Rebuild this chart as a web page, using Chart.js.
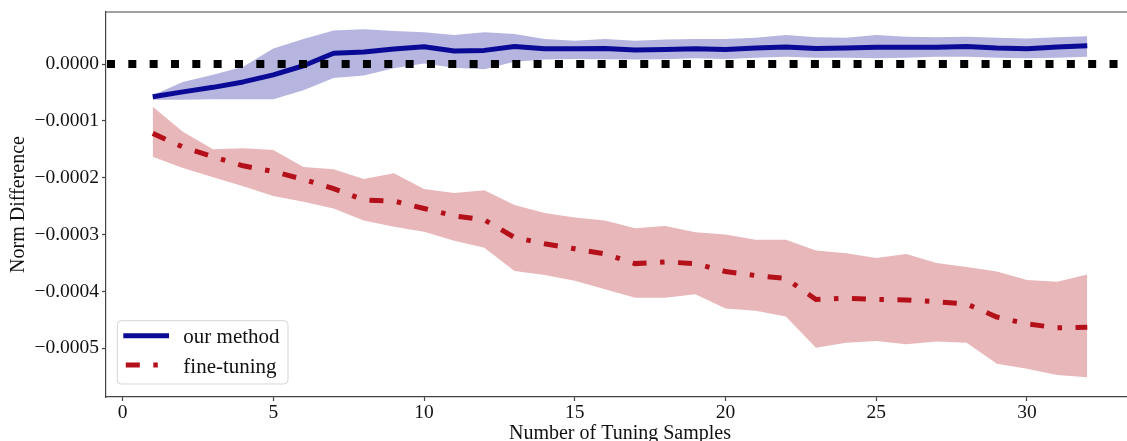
<!DOCTYPE html>
<html>
<head>
<meta charset="utf-8">
<title>Norm Difference vs Number of Tuning Samples</title>
<script src="https://cdn.jsdelivr.net/npm/chart.js@4.4.1/dist/chart.umd.min.js"></script>
<style>
  html, body { margin: 0; padding: 0; overflow: hidden; background: #fff; }
  #wrap { width: 1135px; height: 441px; }
</style>
</head>
<body>
<div id="wrap"><canvas id="normChart"></canvas></div>
<script>
// Norm difference chart
// - two series with shaded bands (mean, upper, lower)
// - values below are in units of 1e-4 (tick labels convert back)

const samples = [1, 2, 3, 4, 5, 6, 7, 8, 9, 10, 11, 12, 13, 14, 15, 16,
                 17, 18, 19, 20, 21, 22, 23, 24, 25, 26, 27, 28, 29, 30, 31, 32];

const oursMean  = [-0.575, -0.49, -0.41, -0.315, -0.19, -0.03, 0.19, 0.21, 0.265, 0.305, 0.23, 0.24,
                   0.31, 0.27, 0.27, 0.275, 0.245, 0.255, 0.27, 0.255, 0.28, 0.30, 0.275, 0.28,
                   0.295, 0.295, 0.295, 0.31, 0.28, 0.27, 0.30, 0.32];
const oursUpper = [-0.55, -0.315, -0.19, -0.05, 0.275, 0.44, 0.59, 0.61, 0.58, 0.56, 0.51, 0.56,
                   0.53, 0.44, 0.41, 0.44, 0.41, 0.43, 0.44, 0.44, 0.46, 0.51, 0.47, 0.46,
                   0.51, 0.48, 0.47, 0.48, 0.46, 0.45, 0.47, 0.49];
const oursLower = [-0.63, -0.63, -0.62, -0.62, -0.62, -0.46, -0.245, -0.2, -0.075, 0.01, -0.065, -0.09,
                   0.04, 0.08, 0.09, 0.085, 0.08, 0.085, 0.10, 0.09, 0.11, 0.13, 0.11, 0.11,
                   0.10, 0.11, 0.13, 0.13, 0.11, 0.10, 0.11, 0.13];

const ftMean  = [-1.22, -1.46, -1.63, -1.79, -1.89, -2.03, -2.19, -2.39, -2.41, -2.54, -2.67, -2.74,
                 -3.05, -3.16, -3.25, -3.34, -3.51, -3.48, -3.51, -3.65, -3.72, -3.77, -4.14, -4.12,
                 -4.14, -4.15, -4.18, -4.22, -4.45, -4.57, -4.64, -4.63];
const ftUpper = [-0.75, -1.19, -1.50, -1.48, -1.51, -1.81, -1.85, -2.02, -1.92, -2.20, -2.27, -2.22,
                 -2.48, -2.62, -2.70, -2.75, -2.89, -2.85, -2.96, -3.00, -3.09, -3.09, -3.28, -3.33,
                 -3.41, -3.34, -3.50, -3.57, -3.65, -3.80, -3.83, -3.70];
const ftLower = [-1.63, -1.83, -1.99, -2.15, -2.32, -2.42, -2.54, -2.75, -2.86, -2.95, -3.11, -3.23,
                 -3.64, -3.71, -3.81, -3.96, -4.11, -4.11, -4.05, -4.30, -4.34, -4.44, -4.99, -4.90,
                 -4.87, -4.93, -4.88, -4.90, -5.27, -5.36, -5.47, -5.51];

const referenceLevel = 0;
const xRange = [-0.55, 33.55];
const yRange = [-5.856, 0.915];

const BLUE = 'rgb(10, 10, 150)';
const BLUE_BAND = 'rgba(10, 10, 150, 0.3)';
const RED = 'rgb(180, 16, 26)';
const RED_BAND = 'rgba(180, 16, 26, 0.3)';
const SPINE = '#444';
const SERIF = '"Liberation Serif", "Times New Roman", serif';

function points(values) {
    return samples.map((x, i) => ({ x: x, y: values[i] }));
}

function fmtTick(v) {
    if (Math.abs(v) < 1e-9) return '0.0000';
    const s = (Math.abs(v) * 1e-4).toFixed(4);
    return v < 0 ? '\u2212' + s : s;
}

// dotted zero line, drawn on top of the data
const zeroLine = {
    id: 'zeroLine',
    afterDatasetsDraw(chart) {
        const { ctx, chartArea } = chart;
        const y = chart.scales.y.getPixelForValue(referenceLevel);
        ctx.save();
        ctx.beginPath();
        ctx.rect(chartArea.left, chartArea.top, chartArea.right - chartArea.left, chartArea.bottom - chartArea.top);
        ctx.clip();
        ctx.strokeStyle = '#000';
        ctx.lineWidth = 8;
        ctx.lineCap = 'butt';
        ctx.setLineDash([8, 13.33]);
        ctx.beginPath();
        ctx.moveTo(chartArea.left + 1, y);
        ctx.lineTo(chartArea.right, y);
        ctx.stroke();
        ctx.restore();
    }
};

// top spine + legend box in lower left
const frameAndLegend = {
    id: 'frameAndLegend',
    afterDraw(chart) {
        const { ctx, chartArea } = chart;
        ctx.save();
        ctx.strokeStyle = SPINE;
        ctx.lineWidth = 1.2;
        ctx.beginPath();
        ctx.moveTo(chartArea.left, chartArea.top);
        ctx.lineTo(chartArea.right, chartArea.top);
        ctx.stroke();

        const items = chart.data.datasets.filter(d => d.inLegend);
        const bx = chartArea.left + 11.3;
        const by = chartArea.bottom - 76.3;
        const bw = 170.7, bh = 63.3;
        ctx.beginPath();
        if (ctx.roundRect) ctx.roundRect(bx, by, bw, bh, 4); else ctx.rect(bx, by, bw, bh);
        ctx.fillStyle = 'rgba(255,255,255,0.8)';
        ctx.fill();
        ctx.strokeStyle = '#d5d5d5';
        ctx.lineWidth = 1;
        ctx.stroke();

        items.forEach((d, i) => {
            const cy = by + 15 + i * 29.3;
            ctx.strokeStyle = d.borderColor;
            ctx.lineWidth = d.borderWidth;
            ctx.lineCap = 'butt';
            ctx.setLineDash(d.borderDash || []);
            ctx.beginPath();
            ctx.moveTo(bx + (d.borderDash ? 8.5 : 6), cy);
            ctx.lineTo(bx + 51.7, cy);
            ctx.stroke();
            ctx.setLineDash([]);
            ctx.fillStyle = '#111';
            ctx.font = '21px ' + SERIF;
            ctx.textBaseline = 'alphabetic';
            ctx.fillText(d.label, bx + 66, cy + 7.6);
        });
        ctx.restore();
    }
};

const bandStyle = { borderWidth: 0, pointRadius: 0, pointHoverRadius: 0, order: 2 };

new Chart(document.getElementById('normChart'), {
    type: 'line',
    data: {
        datasets: [
            { label: 'our method', data: points(oursMean), inLegend: true,
              borderColor: BLUE, borderWidth: 5, pointRadius: 0, borderJoinStyle: 'round', fill: false, order: 0 },
            { label: 'fine-tuning', data: points(ftMean), inLegend: true,
              borderColor: RED, borderWidth: 5, pointRadius: 0, borderDash: [14, 13.5, 4.5, 13.5],
              borderCapStyle: 'butt', fill: false, order: 0 },
            Object.assign({ label: 'ours upper', data: points(oursUpper), fill: '+1', backgroundColor: BLUE_BAND }, bandStyle),
            Object.assign({ label: 'ours lower', data: points(oursLower), fill: false }, bandStyle),
            Object.assign({ label: 'ft upper', data: points(ftUpper), fill: '+1', backgroundColor: RED_BAND }, bandStyle),
            Object.assign({ label: 'ft lower', data: points(ftLower), fill: false }, bandStyle)
        ]
    },
    options: {
        responsive: true,
        maintainAspectRatio: false,
        animation: false,
        layout: { padding: { top: 12, right: 1, bottom: 0, left: 0 } },
        plugins: {
            legend: { display: false },
            tooltip: { enabled: false }
        },
        scales: {
            x: {
                type: 'linear',
                min: xRange[0],
                max: xRange[1],
                afterFit: (scale) => {
                    scale.height = 44;
                    scale.paddingLeft = 0;
                    scale.paddingRight = 0;
                },
                border: { display: true, color: SPINE, width: 1.2 },
                grid: { drawOnChartArea: false, tickLength: 4, tickColor: SPINE, tickWidth: 1.2 },
                ticks: { stepSize: 5, includeBounds: false, maxRotation: 0, padding: 0,
                         color: '#111', font: { family: SERIF, size: 19.5 } },
                title: { display: true, text: 'Number of Tuning Samples', color: '#111',
                         font: { family: SERIF, size: 20, lineHeight: 1 }, padding: { top: 0, bottom: -3 } }
            },
            y: {
                min: yRange[0],
                max: yRange[1],
                afterFit: (scale) => {
                    scale.width = 106;
                    scale.paddingTop = 0;
                    scale.paddingBottom = 0;
                },
                border: { display: true, color: SPINE, width: 1.2 },
                grid: { drawOnChartArea: false, tickLength: 4, tickColor: SPINE, tickWidth: 1.2 },
                ticks: { stepSize: 1, includeBounds: false, padding: 3, callback: fmtTick,
                         color: '#111', font: { family: SERIF, size: 19.5 } },
                title: { display: true, text: 'Norm Difference', color: '#111',
                         font: { family: SERIF, size: 20 }, padding: { top: 7, bottom: 0 } }
            }
        }
    },
    plugins: [zeroLine, frameAndLegend]
});
</script>
</body>
</html>
